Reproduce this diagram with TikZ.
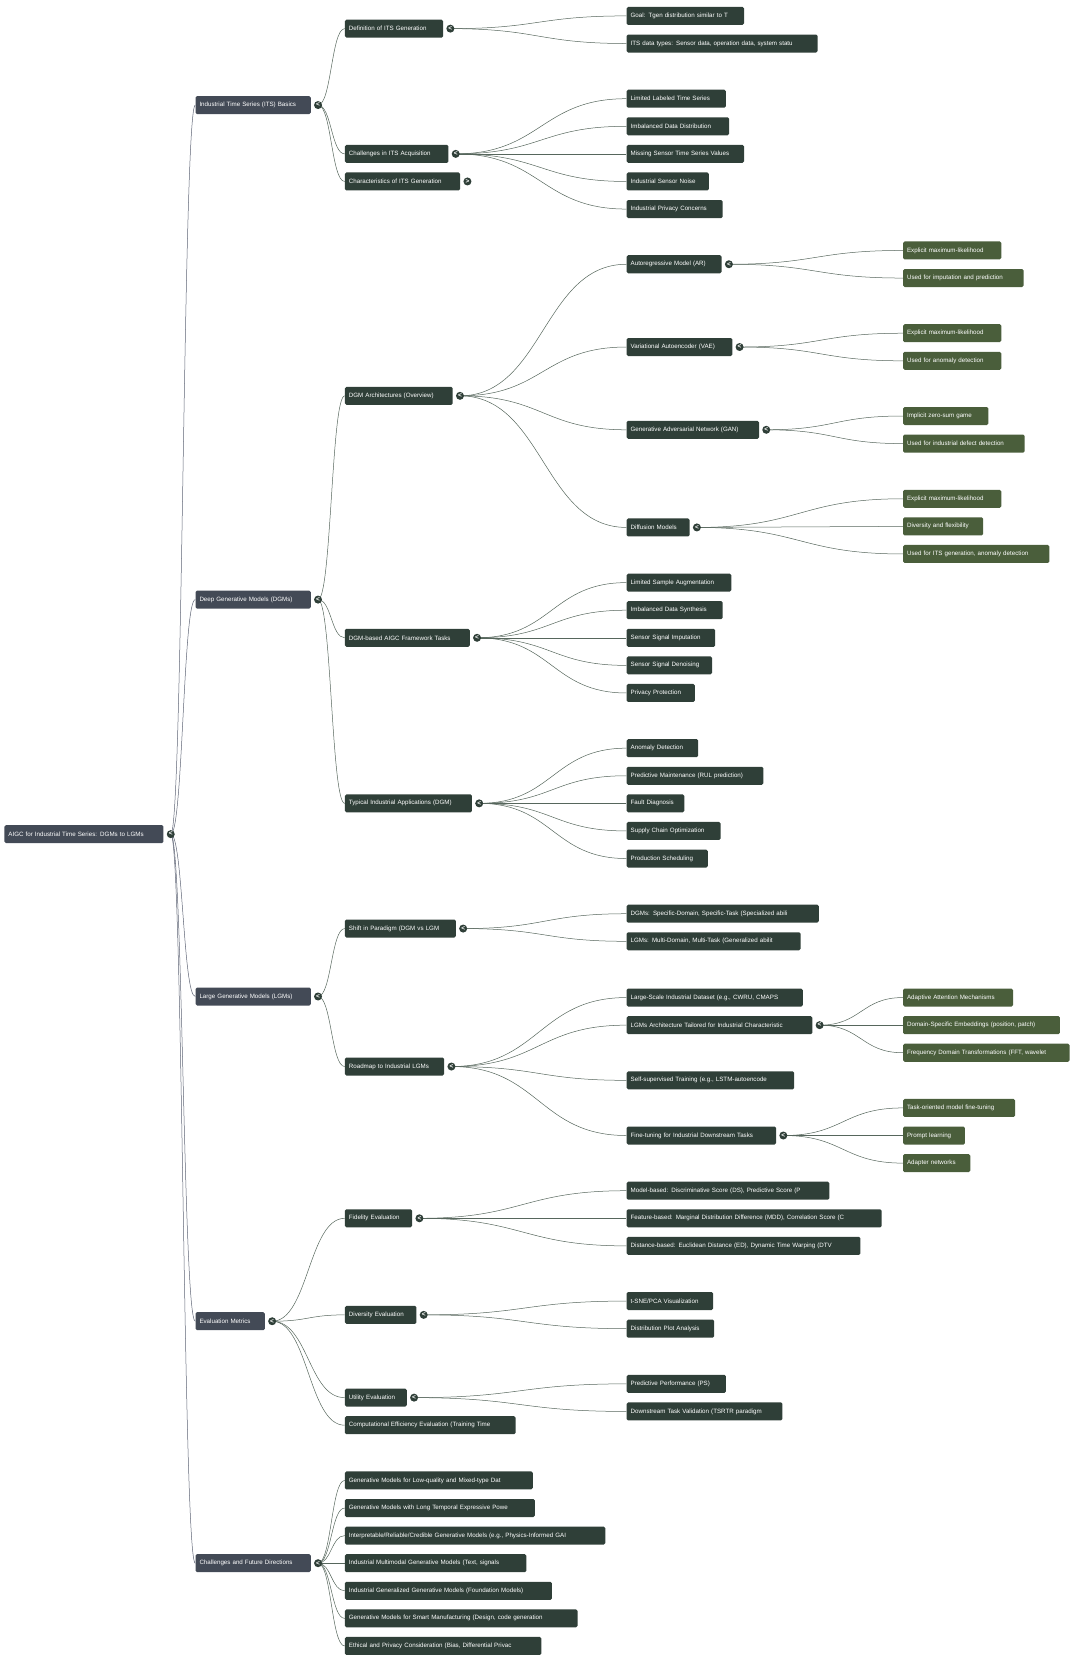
\documentclass[tikz,border=0pt]{standalone}
\usepackage{fontspec}
\setmainfont{Liberation Sans}
\usetikzlibrary{backgrounds,calc}
\definecolor{slate}{HTML}{434A56}
\definecolor{dgreen}{HTML}{2F3F38}
\definecolor{olive}{HTML}{4A5E3B}
\definecolor{edgeA}{HTML}{5E6474}
\definecolor{edgeB}{HTML}{56665C}
\tikzset{
  box/.style={rounded corners=1.5pt, minimum height=18pt, inner xsep=4pt, inner ysep=0pt, text=white, font=\fontsize{6.2}{7}\selectfont, align=left},
  top/.style={box, fill=slate},
  mid/.style={box, fill=dgreen},
  leaf/.style={box, fill=olive},
  circ/.style={circle, fill=dgreen, inner sep=0pt, minimum size=8pt, text=white, font=\fontsize{6.5}{6.5}\selectfont\bfseries},
  edgeT/.style={draw=edgeA, line width=0.5pt},
  edgeG/.style={draw=edgeB, line width=0.5pt}
}
\newcommand\mk[6]{\node[#1, text width={(#4-#3)*1.067pt-8pt}, anchor=west] (#2) at (#3,#5) {\mbox{#6}};}
\newcommand\ci[4]{\node[circ] (#1-c) at (#2+7,#3) {\raisebox{0.3pt}{#4}};}
\newcommand\ed[3][edgeG]{\begin{pgfonlayer}{background}\draw[#1] let \p1=(#2-c.center), \p2=(#3.west), \n1={(\x2-\x1)*0.5} in (\p1) .. controls (\x1+\n1,\y1) and (\x2-\n1,\y2) .. (\p2);\end{pgfonlayer}}
\begin{document}
\begin{tikzpicture}[x=1.067pt,y=-1.061pt]
\useasboundingbox (0,0) rectangle (1012,1568);
% root
\mk{top}{root}{4}{153}{786}{AIGC for Industrial Time Series: DGMs to LGMs}
\ci{root}{153}{786}{<}
% L1
\mk{top}{its}{183}{291}{99}{Industrial Time Series (ITS) Basics}\ci{its}{291}{99}{<}
\mk{top}{dgm}{183}{291}{565}{Deep Generative Models (DGMs)}\ci{dgm}{291}{565}{<}
\mk{top}{lgm}{183}{291}{939}{Large Generative Models (LGMs)}\ci{lgm}{291}{939}{<}
\mk{top}{eval}{183}{248}{1245}{Evaluation Metrics}\ci{eval}{248}{1245}{<}
\mk{top}{chal}{183}{291}{1473}{Challenges and Future Directions}\ci{chal}{291}{1473}{<}
\foreach \q in {its,dgm,lgm,eval,chal}{\ed[edgeT]{root}{\q}}
% ITS
\mk{mid}{def}{323}{415}{27}{Definition of ITS Generation}\ci{def}{415}{27}{<}
\mk{mid}{acq}{323}{420}{145}{Challenges in ITS Acquisition}\ci{acq}{420}{145}{<}
\mk{mid}{char}{323}{431}{171}{Characteristics of ITS Generation}\ci{char}{431}{171}{>}
\foreach \q in {def,acq,char}{\ed{its}{\q}}
\mk{mid}{goal}{587}{697}{15}{Goal: Tgen distribution similar to T}
\mk{mid}{types}{587}{766}{41}{ITS data types: Sensor data, operation data, system statu}
\foreach \q in {goal,types}{\ed{def}{\q}}
\mk{mid}{a1}{587}{680}{93}{Limited Labeled Time Series}
\mk{mid}{a2}{587}{683}{119}{Imbalanced Data Distribution}
\mk{mid}{a3}{587}{697}{145}{Missing Sensor Time Series Values}
\mk{mid}{a4}{587}{664}{171}{Industrial Sensor Noise}
\mk{mid}{a5}{587}{677}{197}{Industrial Privacy Concerns}
\foreach \q in {a1,a2,a3,a4,a5}{\ed{acq}{\q}}
% DGMs
\mk{mid}{arch}{323}{424}{373}{DGM Architectures (Overview)}\ci{arch}{424}{373}{<}
\mk{mid}{task}{323}{440}{601}{DGM-based AIGC Framework Tasks}\ci{task}{440}{601}{<}
\mk{mid}{app}{323}{442}{757}{Typical Industrial Applications (DGM)}\ci{app}{442}{757}{<}
\foreach \q in {arch,task,app}{\ed{dgm}{\q}}
\mk{mid}{ar}{587}{676}{249}{Autoregressive Model (AR)}\ci{ar}{676}{249}{<}
\mk{mid}{vae}{587}{686}{327}{Variational Autoencoder (VAE)}\ci{vae}{686}{327}{<}
\mk{mid}{gan}{587}{711}{405}{Generative Adversarial Network (GAN)}\ci{gan}{711}{405}{<}
\mk{mid}{diff}{587}{646}{497}{Diffusion Models}\ci{diff}{646}{497}{<}
\foreach \q in {ar,vae,gan,diff}{\ed{arch}{\q}}
\mk{leaf}{ar1}{846}{938}{236}{Explicit maximum-likelihood}
\mk{leaf}{ar2}{846}{959}{262}{Used for imputation and prediction}
\foreach \q in {ar1,ar2}{\ed{ar}{\q}}
\mk{leaf}{v1}{846}{938}{314}{Explicit maximum-likelihood}
\mk{leaf}{v2}{846}{938}{340}{Used for anomaly detection}
\foreach \q in {v1,v2}{\ed{vae}{\q}}
\mk{leaf}{g1}{846}{926}{392}{Implicit zero-sum game}
\mk{leaf}{g2}{846}{960}{418}{Used for industrial defect detection}
\foreach \q in {g1,g2}{\ed{gan}{\q}}
\mk{leaf}{d1}{846}{938}{470}{Explicit maximum-likelihood}
\mk{leaf}{d2}{846}{921}{496}{Diversity and flexibility}
\mk{leaf}{d3}{846}{983}{522}{Used for ITS generation, anomaly detection}
\foreach \q in {d1,d2,d3}{\ed{diff}{\q}}
\mk{mid}{t1}{587}{685}{549}{Limited Sample Augmentation}
\mk{mid}{t2}{587}{677}{575}{Imbalanced Data Synthesis}
\mk{mid}{t3}{587}{670}{601}{Sensor Signal Imputation}
\mk{mid}{t4}{587}{667}{627}{Sensor Signal Denoising}
\mk{mid}{t5}{587}{651}{653}{Privacy Protection}
\foreach \q in {t1,t2,t3,t4,t5}{\ed{task}{\q}}
\mk{mid}{p1}{587}{654}{705}{Anomaly Detection}
\mk{mid}{p2}{587}{715}{731}{Predictive Maintenance (RUL prediction)}
\mk{mid}{p3}{587}{641}{757}{Fault Diagnosis}
\mk{mid}{p4}{587}{675}{783}{Supply Chain Optimization}
\mk{mid}{p5}{587}{663}{809}{Production Scheduling}
\foreach \q in {p1,p2,p3,p4,p5}{\ed{app}{\q}}
% LGMs
\mk{mid}{shift}{323}{427}{875}{Shift in Paradigm (DGM vs LGM}\ci{shift}{427}{875}{<}
\mk{mid}{road}{323}{416}{1005}{Roadmap to Industrial LGMs}\ci{road}{416}{1005}{<}
\foreach \q in {shift,road}{\ed{lgm}{\q}}
\mk{mid}{s1}{587}{767}{861}{DGMs: Specific-Domain, Specific-Task (Specialized abili}
\mk{mid}{s2}{587}{750}{887}{LGMs: Multi-Domain, Multi-Task (Generalized abilit}
\foreach \q in {s1,s2}{\ed{shift}{\q}}
\mk{mid}{r1}{587}{752}{940}{Large-Scale Industrial Dataset (e.g., CWRU, CMAPS}
\mk{mid}{r2}{587}{761}{966}{LGMs Architecture Tailored for Industrial Characteristic}\ci{r2}{761}{966}{<}
\mk{mid}{r3}{587}{744}{1018}{Self-supervised Training (e.g., LSTM-autoencode}
\mk{mid}{r4}{587}{727}{1070}{Fine-tuning for Industrial Downstream Tasks}\ci{r4}{727}{1070}{<}
\foreach \q in {r1,r2,r3,r4}{\ed{road}{\q}}
\mk{leaf}{x1}{846}{949}{940}{Adaptive Attention Mechanisms}
\mk{leaf}{x2}{846}{993}{966}{Domain-Specific Embeddings (position, patch)}
\mk{leaf}{x3}{846}{1002}{992}{Frequency Domain Transformations (FFT, wavelet}
\foreach \q in {x1,x2,x3}{\ed{r2}{\q}}
\mk{leaf}{f1}{846}{951}{1044}{Task-oriented model fine-tuning}
\mk{leaf}{f2}{846}{904}{1070}{Prompt learning}
\mk{leaf}{f3}{846}{909}{1096}{Adapter networks}
\foreach \q in {f1,f2,f3}{\ed{r4}{\q}}
% Evaluation
\mk{mid}{fid}{323}{386}{1148}{Fidelity Evaluation}\ci{fid}{386}{1148}{<}
\mk{mid}{div}{323}{390}{1239}{Diversity Evaluation}\ci{div}{390}{1239}{<}
\mk{mid}{uti}{323}{381}{1317}{Utility Evaluation}\ci{uti}{381}{1317}{<}
\mk{mid}{comp}{323}{483}{1343}{Computational Efficiency Evaluation (Training Time}
\foreach \q in {fid,div,uti,comp}{\ed{eval}{\q}}
\mk{mid}{e1}{587}{777}{1122}{Model-based: Discriminative Score (DS), Predictive Score (P}
\mk{mid}{e2}{587}{826}{1148}{Feature-based: Marginal Distribution Difference (MDD), Correlation Score (C}
\mk{mid}{e3}{587}{806}{1174}{Distance-based: Euclidean Distance (ED), Dynamic Time Warping (DTV}
\foreach \q in {e1,e2,e3}{\ed{fid}{\q}}
\mk{mid}{y1}{587}{668}{1226}{t-SNE/PCA Visualization}
\mk{mid}{y2}{587}{669}{1252}{Distribution Plot Analysis}
\foreach \q in {y1,y2}{\ed{div}{\q}}
\mk{mid}{u1}{587}{680}{1304}{Predictive Performance (PS)}
\mk{mid}{u2}{587}{733}{1330}{Downstream Task Validation (TSRTR paradigm}
\foreach \q in {u1,u2}{\ed{uti}{\q}}
% Challenges
\mk{mid}{c1}{323}{499}{1395}{Generative Models for Low-quality and Mixed-type Dat}
\mk{mid}{c2}{323}{501}{1421}{Generative Models with Long Temporal Expressive Powe}
\mk{mid}{c3}{323}{567}{1447}{Interpretable/Reliable/Credible Generative Models (e.g., Physics-Informed GAI}
\mk{mid}{c4}{323}{493}{1473}{Industrial Multimodal Generative Models (Text, signals}
\mk{mid}{c5}{323}{517}{1499}{Industrial Generalized Generative Models (Foundation Models)}
\mk{mid}{c6}{323}{541}{1525}{Generative Models for Smart Manufacturing (Design, code generation}
\mk{mid}{c7}{323}{507}{1551}{Ethical and Privacy Consideration (Bias, Differential Privac}
\foreach \q in {c1,c2,c3,c4,c5,c6,c7}{\ed{chal}{\q}}
\end{tikzpicture}
\end{document}
